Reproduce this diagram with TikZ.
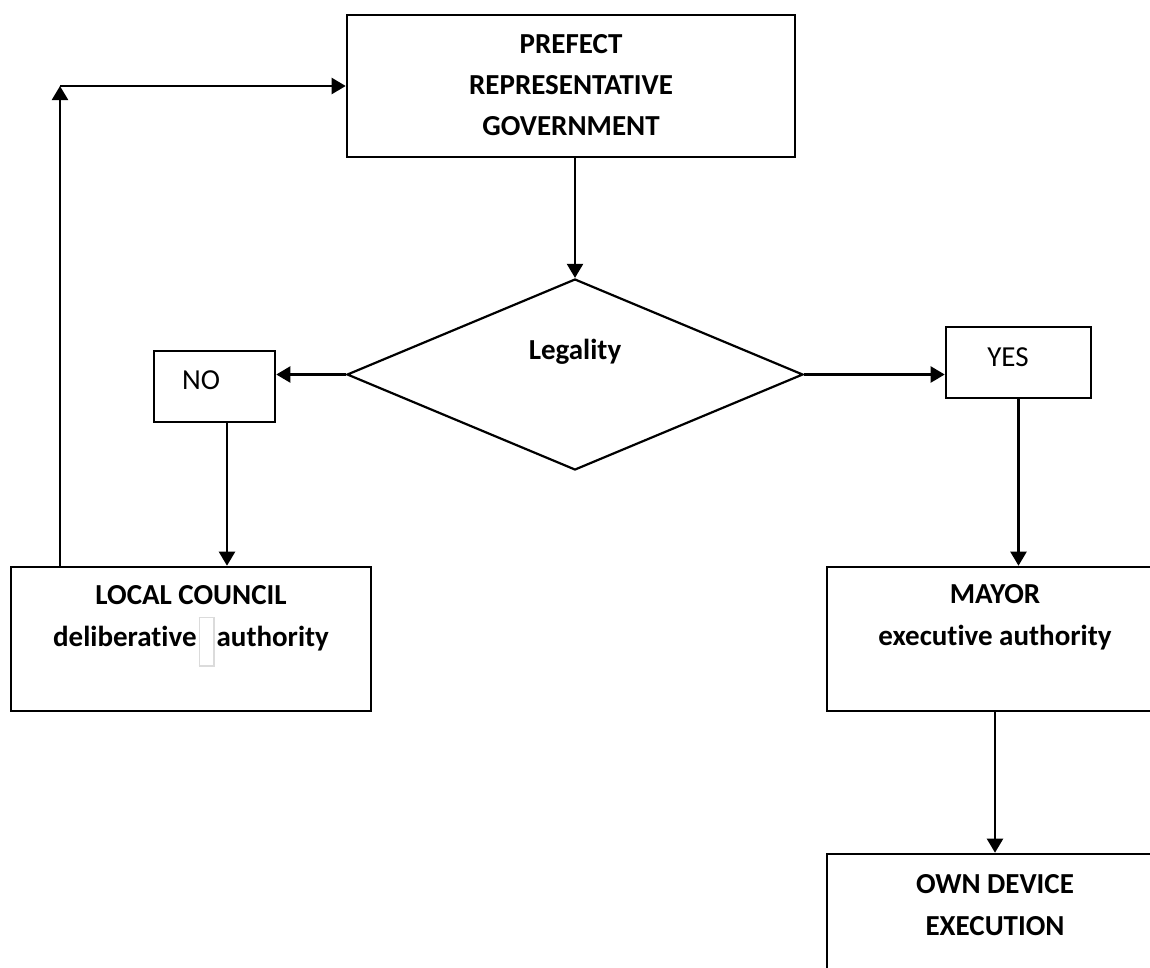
\documentclass[tikz,border=0pt]{standalone}
\usepackage{fontspec}
\setmainfont{Carlito}[Ligatures={NoCommon}]
\usetikzlibrary{shapes.geometric,arrows.meta}
\newcommand\gapglyph{\smash{{\fboxsep=0pt\fboxrule=1.4pt\fcolorbox{black!14}{white}{\rule[-19pt]{0pt}{47pt}\hspace{13.2pt}}}}}
\begin{document}
\begin{tikzpicture}[x=1pt,y=-1pt,
  box/.style={draw, line width=2.6pt, rectangle, inner sep=0pt},
  dia/.style={draw, line width=2.2pt, diamond, inner sep=0pt},
  txtb/.style={font=\fontsize{29}{42}\selectfont\bfseries, align=center, inner sep=0pt},
  txtr/.style={font=\fontsize{29}{42}\selectfont, inner sep=0pt},
  conn/.style={line width=2.2pt, -{Triangle[length=14pt,width=16pt]}},
]
\useasboundingbox (0,0) rectangle (1150,967);
\clip (0,0) rectangle (1150,967);

% shapes
\node[box, minimum width=448pt, minimum height=142pt] (prefect) at (571,86) {};
\node[dia, minimum width=456pt, minimum height=191pt] (legal) at (575,374.5) {};
\node[box, minimum width=121pt, minimum height=71pt] (no) at (214.5,386.5) {};
\node[box, minimum width=145pt, minimum height=71pt] (yes) at (1018.5,362.5) {};
\node[box, minimum width=360pt, minimum height=144pt] (local) at (191,639) {};
\node[box, minimum width=336pt, minimum height=144pt] (mayor) at (995,639) {};
\node[box, minimum width=336pt, minimum height=144pt] (own) at (995,926) {};
\coordinate (corner) at (60,86);

% texts
\node[txtb, font=\fontsize{29}{41}\selectfont\bfseries] (tprefect) at (571,85) {PREFECT\\REPRESENTATIVE\\GOVERNMENT};
\node[txtb, anchor=base] (tlegal) at (575,359) {Legality};
\node[txtr, anchor=base] (tno) at (201,389) {NO};
\node[txtr, anchor=base] (tyes) at (1008,366) {YES};
\node[txtb] (tlocal) at (191,618) {LOCAL COUNCIL\\deliberative\hspace{2pt}\gapglyph\hspace{2pt}authority};
\node[txtb] (tmayor) at (995,617) {MAYOR\\executive authority};
\node[txtb] (town) at (995,905) {OWN DEVICE\\EXECUTION};

% connectors
\draw[conn] (prefect.south -| legal.north) -- (legal.north);
\draw[conn] (legal.west) -- (legal.west -| no.east);
\draw[conn] (legal.east) -- (legal.east -| yes.west);
\draw[conn] ([xshift=12.5pt]no.south) -- ([xshift=12.5pt]no.south |- local.north);
\draw[conn] (yes.south) -- (yes.south |- mayor.north);
\draw[conn] (mayor.south) -- (own.north);
\draw[conn] (corner |- local.north) -- (corner);
\draw[conn] (corner) -- (prefect.west);
\end{tikzpicture}
\end{document}
